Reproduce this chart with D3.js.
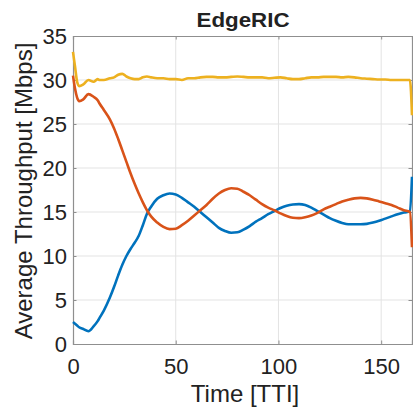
<!DOCTYPE html>
<html>
<head>
<meta charset="utf-8">
<script src="https://cdn.jsdelivr.net/npm/d3@7"></script>
<style>
html,body{margin:0;padding:0;background:#fff;}
svg{display:block;}
text{font-family:"Liberation Sans",Arial,Helvetica,sans-serif;fill:#222;}
</style>
</head>
<body>
<svg id="chart" width="413" height="407"></svg>
<script>
const title = "EdgeRIC";
const xLabel = "Time [TTI]";
const yLabel = "Average Throughput [Mbps]";
const xTicks = [0, 50, 100, 150];
const yTicks = [0, 5, 10, 15, 20, 25, 30, 35];
const seriesNames = ["UE1", "UE2", "UE3"];
const colors = ["#0072BD", "#D95319", "#EDB120"];

const time = [0,1,2,3,5,7.5,10,12,13,15,18,20,22,24,26,28,30,32,34,36,38,41,44,47,50,53,56,59,62,65,68,71,74,77,80,83,86,89,92,95,98,101,104,107,110,113,116,119,122,125,128,131,134,137,140,143,146,149,152,155,158,161,164,165];
const blue = [2.5,2.3,2.1,1.9,1.7,1.45,2.0,2.6,3.0,3.8,5.3,6.5,7.8,9.0,10.0,10.8,11.5,12.3,13.5,14.8,15.6,16.5,16.9,17.1,17.0,16.6,16.1,15.6,15.0,14.4,13.8,13.2,12.85,12.65,12.7,13.0,13.4,13.9,14.3,14.75,15.1,15.45,15.7,15.85,15.9,15.8,15.5,15.1,14.7,14.3,14.0,13.75,13.6,13.6,13.6,13.65,13.8,14.0,14.25,14.5,14.75,14.95,15.05,19];
const orange = [30.5,29.0,28.0,27.6,27.8,28.4,28.1,27.7,27.3,26.6,25.5,24.5,23.3,22.0,20.7,19.4,18.2,17.1,16.1,15.2,14.5,13.8,13.3,13.05,13.1,13.5,14.0,14.6,15.2,15.8,16.5,17.1,17.5,17.7,17.65,17.3,16.9,16.4,15.9,15.5,15.2,14.85,14.55,14.35,14.3,14.4,14.6,14.9,15.3,15.6,15.9,16.2,16.4,16.55,16.6,16.55,16.4,16.2,16.0,15.8,15.5,15.2,15.0,11];
const yellow = [33.2,31.5,29.8,29.3,29.5,30.0,29.8,30.1,30.0,30.0,30.2,30.3,30.6,30.7,30.4,30.2,30.1,30.1,30.3,30.4,30.3,30.2,30.2,30.1,30.1,30.0,30.2,30.2,30.3,30.35,30.35,30.3,30.3,30.35,30.4,30.35,30.3,30.3,30.3,30.2,30.25,30.3,30.2,30.1,30.1,30.2,30.3,30.3,30.35,30.35,30.35,30.3,30.35,30.3,30.2,30.15,30.1,30.05,30.05,30.0,30.0,30.0,30.0,26];
const seriesValues = [blue, orange, yellow];

const svg = d3.select("#chart");
const L = 73, R = 412, T = 36, B = 344;
const x = d3.scaleLinear().domain([0, 165]).range([L, R]);
const y = d3.scaleLinear().domain([0, 35]).range([B, T]);

// grid
const g = svg.append("g");
g.selectAll(".vg").data(xTicks.filter(d => d > 0)).enter().append("line")
  .attr("x1", d => x(d)).attr("x2", d => x(d)).attr("y1", T).attr("y2", B)
  .attr("stroke", "#e3e3e3").attr("stroke-width", 1);
g.selectAll(".hg").data(yTicks.filter(d => d > 0 && d < 35)).enter().append("line")
  .attr("x1", L).attr("x2", R).attr("y1", d => y(d)).attr("y2", d => y(d))
  .attr("stroke", "#e3e3e3").attr("stroke-width", 1);

// axes via d3
const axisColor = "#8f8f8f";
const xAxis = svg.append("g").attr("transform", `translate(0,${B})`)
  .call(d3.axisBottom(x).tickValues(xTicks).tickSize(-3.5).tickPadding(14).tickFormat(d3.format("d")));
const yAxis = svg.append("g").attr("transform", `translate(${L},0)`)
  .call(d3.axisLeft(y).tickValues(yTicks).tickSize(-3.5).tickPadding(6).tickFormat(d3.format("d")));
const xTop = svg.append("g").attr("transform", `translate(0,${T})`)
  .call(d3.axisTop(x).tickValues(xTicks).tickSize(-3.5).tickFormat(""));
const yRight = svg.append("g").attr("transform", `translate(${R},0)`)
  .call(d3.axisRight(y).tickValues(yTicks).tickSize(-3.5).tickFormat(""));
[xAxis, yAxis, xTop, yRight].forEach(a => {
  a.selectAll("path").attr("stroke", axisColor).attr("stroke-width", 1.2);
  a.selectAll("line").attr("stroke", axisColor);
  a.selectAll("text").attr("font-size", 22).attr("fill", "#222")
    .style("font-family", '"Liberation Sans",Arial,sans-serif');
});
yAxis.selectAll("text").attr("dy", "0.36em");
xAxis.selectAll("text").attr("dy", "0.71em");

// lines
const line = d3.line().x((d, i) => x(time[i])).y(d => y(d)).curve(d3.curveMonotoneX);
seriesValues.forEach((vals, k) => {
  svg.append("path").datum(vals).attr("d", line)
    .attr("fill", "none").attr("stroke", colors[k]).attr("stroke-width", 2.6)
    .attr("stroke-linejoin", "round").attr("stroke-linecap", "butt")
    .attr("data-name", seriesNames[k]);
});

// title & labels
svg.append("text").attr("x", 243).attr("y", 27).attr("text-anchor", "middle")
  .attr("font-size", 20).attr("font-weight", "bold").attr("fill", "#111")
  .attr("textLength", 93).attr("lengthAdjust", "spacingAndGlyphs").text(title);
svg.append("text").attr("x", 245).attr("y", 402).attr("text-anchor", "middle")
  .attr("font-size", 24).text(xLabel);
svg.append("text").attr("transform", "translate(32,191) rotate(-90)")
  .attr("text-anchor", "middle").attr("font-size", 24).text(yLabel);
</script>
</body>
</html>
